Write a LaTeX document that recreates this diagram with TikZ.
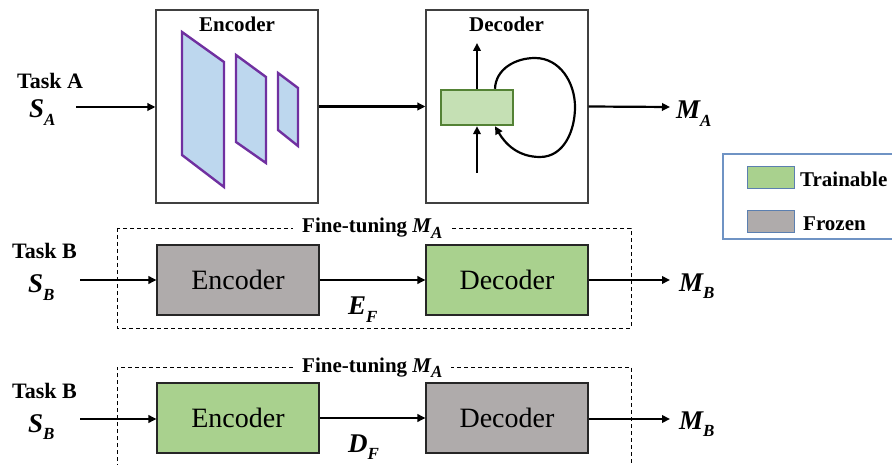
\documentclass[tikz,border=0pt]{standalone}
\usepackage{fontspec}
\setmainfont{Liberation Serif}
\usetikzlibrary{arrows.meta}
\definecolor{gfill}{HTML}{A9D18E}
\definecolor{gyfill}{HTML}{AFABAB}
\definecolor{bfill}{HTML}{BDD7EE}
\definecolor{purp}{HTML}{7030A0}
\definecolor{lgfill}{HTML}{C5E0B4}
\definecolor{dgreen}{HTML}{548235}
\definecolor{legline}{HTML}{6F93C4}
\definecolor{swline}{HTML}{5B7FB0}
\newcommand{\bisub}[2]{{\bfseries\itshape #1\raisebox{-0.28em}{\fontsize{17}{17}\selectfont #2}}}
\begin{document}
\begin{tikzpicture}[x=1pt,y=-1pt,
  arr/.style={line width=2.2pt,-{Triangle[length=8pt,width=7.5pt]}},
  blk/.style={draw=black!85,line width=1.1pt,minimum width=162pt,minimum height=70pt,inner sep=0pt,font=\fontsize{28}{28}\selectfont},
  bigbox/.style={draw=black!75,line width=1.2pt,minimum width=162pt,minimum height=193pt,inner sep=0pt},
  lbl/.style={font=\fontsize{21}{21}\selectfont\bfseries,inner sep=0pt,anchor=base west},
  tlbl/.style={lbl,font=\fontsize{22}{22}\selectfont\bfseries},
  mlab/.style={font=\fontsize{27}{27}\selectfont,inner sep=0pt,anchor=base west},
  para/.style={draw=purp,line width=2.4pt,fill=bfill,line join=miter},
  dbox/.style={draw=black,line width=0.9pt,dash pattern=on 4pt off 3pt},
  ftl/.style={lbl,fill=white,inner xsep=9pt,inner ysep=2pt},
  sw/.style={draw=swline,line width=1pt,minimum width=47pt,minimum height=22pt,inner sep=0pt}]
\useasboundingbox (0,0) rectangle (892,465);

% ---------- Row 1 ----------
\node[bigbox] (enc) at (237,106.5) {};
\node[bigbox] (dec) at (507,106.5) {};
\node[lbl] (enct) at (199,32) {Encoder};
\node[lbl] (dect) at (469,32) {Decoder};
\draw[para] (182,32) -- (224,62) -- (224,187) -- (182,155) -- cycle;
\draw[para] (236,55) -- (266,77) -- (266,163) -- (236,142) -- cycle;
\draw[para] (278,73) -- (298,88) -- (298,146) -- (278,130) -- cycle;

\node[tlbl] (taska) at (17,89) {Task A};
\node[mlab] (sa) at (29,118) {\bisub{S}{A}};
\coordinate (sain) at (76,107);
\draw[arr] (sain) -- (sain -| enc.west);
\draw[arr] (enc.east) -- (enc.east -| dec.west);

\node[draw=dgreen,line width=2.4pt,fill=lgfill,minimum width=72pt,minimum height=35pt,inner sep=0pt] (g) at (477,107.5) {};
\coordinate (gup) at (477,43);
\coordinate (gdn) at (477,173);
\draw[arr] (g.north) -- (gup);
\draw[arr] (gdn) -- (g.south);
\draw[arr] ([xshift=18pt]g.north) to[out=88,in=180] (535,58) to[out=0,in=90] (575,107) to[out=-90,in=0] (540,157) to[out=180,in=-60] ([xshift=18pt]g.south);

\coordinate (ma) at (670,107);
\draw[arr] (dec.east) -- (ma);
\node[mlab] (mal) at (676,119) {\bisub{M}{A}};

% ---------- Legend ----------
\draw[legline,line width=1.1pt] (895,154) -- (723,154) -- (723,239) -- (895,239);
\node[sw,fill=gfill] (sw1) at (770.5,178) {};
\node[sw,fill=gyfill] (sw2) at (770.5,222) {};
\node[lbl] (lt) at (800,187) {Trainable};
\node[lbl] (lf) at (803,231) {Frozen};

% ---------- Row 2 ----------
\draw[dbox] (117,228) rectangle (631,328);
\node[ftl] (ft2) at (293,233) {Fine-tuning \bisub{M}{A}};
\node[blk,fill=gyfill] (e2) at (238,280) {Encoder};
\node[blk,fill=gfill] (d2) at (507,280) {Decoder};
\node[tlbl] (tb2) at (12,259) {Task B};
\node[mlab] (sb2) at (28,293) {\bisub{S}{B}};
\coordinate (sb2in) at (80,280);
\draw[arr] (sb2in) -- (e2.west);
\draw[arr] (e2.east) -- (d2.west);
\node[mlab] (ef) at (348,315) {\bisub{E}{F}};
\coordinate (mb2) at (670,280);
\draw[arr] (d2.east) -- (mb2);
\node[mlab] (mb2l) at (679,291) {\bisub{M}{B}};

% ---------- Row 3 ----------
\draw[dbox] (117,475) -- (117,367) -- (631,367) -- (631,475);
\node[ftl] (ft3) at (293,372) {Fine-tuning \bisub{M}{A}};
\node[blk,fill=gfill] (e3) at (238,418) {Encoder};
\node[blk,fill=gyfill] (d3) at (507,418) {Decoder};
\node[tlbl] (tb3) at (12,398) {Task B};
\node[mlab] (sb3) at (28,432) {\bisub{S}{B}};
\coordinate (sb3in) at (80,419);
\draw[arr] (sb3in) -- (sb3in -| e3.west);
\draw[arr] (e3.east) -- (d3.west);
\node[mlab] (df) at (348,452) {\bisub{D}{F}};
\coordinate (mb3) at (670,419);
\draw[arr] (d3.east |- mb3) -- (mb3);
\node[mlab] (mb3l) at (679,429) {\bisub{M}{B}};
\end{tikzpicture}
\end{document}
